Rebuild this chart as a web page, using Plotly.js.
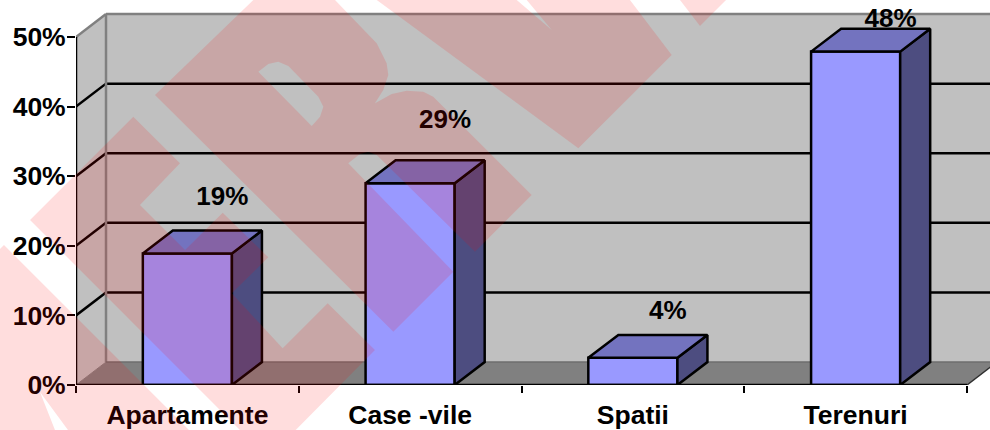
<!DOCTYPE html>
<html><head><meta charset="utf-8">
<script src="https://cdn.plot.ly/plotly-3.0.1.min.js"></script>
<style>html,body{margin:0;padding:0;background:#fff}#c{width:990px;height:430px}</style>
</head><body><div id="c"></div>
<script>
// ---- data ----
var categories = ['Apartamente', 'Case -vile', 'Spatii', 'Terenuri'];
var values = [18.9, 29.0, 3.9, 47.9];
var valueLabels = ['19%', '29%', '4%', '48%'];
var yTicks = [0, 10, 20, 30, 40, 50];
var yTickLabels = ['0%', '10%', '20%', '30%', '40%', '50%'];

// ---- 3D look ----
var depthX = 0.1347, depthY = 3.3, barWidth = 0.4;
var labelLift = [7.95, 8.9, 6.55, 4.5];
var labelShift = 0.157;
var xMax = categories.length, yMax = yTicks[yTicks.length - 1];

var centers = categories.map(function (_, i) { return i + 0.5; });

function poly(pts) {
  return 'M' + pts.map(function (p) { return p[0] + ',' + p[1]; }).join('L') + 'Z';
}
function seg(x0, y0, x1, y1, color, width) {
  return { type: 'line', layer: 'below', xref: 'x', yref: 'y', x0: x0, y0: y0, x1: x1, y1: y1,
           line: { color: color, width: width } };
}
function face(pts, fill) {
  return { type: 'path', layer: 'below', xref: 'x', yref: 'y', path: poly(pts), fillcolor: fill,
           line: { width: 0 } };
}

var shapes = [
  face([[0, 0], [depthX, depthY], [depthX, yMax + depthY], [0, yMax]], '#c0c0c0'),
  face([[depthX, depthY], [xMax + depthX, depthY], [xMax + depthX, yMax + depthY], [depthX, yMax + depthY]], '#c0c0c0'),
  face([[0, 0], [xMax, 0], [xMax + depthX, depthY], [depthX, depthY]], '#808080')
];
yTicks.slice(1, -1).forEach(function (t) {
  shapes.push(seg(0, t, depthX, t + depthY, '#000', 2.5));
  shapes.push(seg(depthX, t + depthY, xMax + depthX, t + depthY, '#000', 2.5));
});
shapes.push(seg(0, yMax, depthX, yMax + depthY, '#808080', 2.5));
shapes.push(seg(depthX, yMax + depthY, xMax + depthX, yMax + depthY, '#808080', 2.5));
shapes.push(seg(depthX, depthY, depthX, yMax + depthY, '#808080', 2.5));
shapes.push(seg(depthX, depthY, xMax + depthX, depthY, '#6e6e6e', 1.5));
shapes.push(seg(0, 0, depthX, depthY, '#808080', 1));
shapes.push(seg(xMax, 0, xMax + depthX, depthY, '#303030', 1.5));

// ---- watermark (translucent red letters over everything, in page pixels) ----
var wmPolys = [
  [[133.3,116.7],[180,163.3],[140,205],[185,250],[222.7,212.7],[268.3,257.3],[231.7,293.3],[282.7,348.3],[327.7,303.3],[375,350],[295.7,430],[240,430],[30,220]],
  [[0,249],[4,245],[189,430],[68,430],[40,392],[55,430],[0,430]],
  [[253.3,0],[155,95],[393.3,331.7],[453.3,271.7],[348.3,163.3],[360,154],[368.3,151.7],[376.7,155],[475,251.7],[531.7,195],[433.3,96.7],[423.3,91.7],[406.7,90.7],[391.7,94],[375,103.3],[383.3,90],[388.3,75],[386.7,63.3],[376.7,43.3],[335,0]],
  [[258.3,71.7],[268.3,64],[278.3,61.7],[288.3,66],[318.3,96.7],[323.3,106.7],[320,116.7],[311.7,126]],
  [[376.7,0],[578.3,148.3],[671.7,55],[630,0],[526.7,0],[551.7,30],[516.7,0]],
  [[680,0],[700,26],[726,0]]
];
var plotL = 76, plotW = 914, plotH = 385;
var wmPath = wmPolys.map(function (pg) {
  return poly(pg.map(function (p) { return [((p[0] - plotL) / plotW).toFixed(4), (1 - p[1] / plotH).toFixed(4)]; }));
}).join('');
shapes.push({ type: 'path', layer: 'above', xref: 'paper', yref: 'paper', path: wmPath,
              fillcolor: 'rgba(255,0,0,0.135)', line: { width: 0 } });

// ---- traces ----
var sideX = [], sideY = [], topX = [], topY = [];
values.forEach(function (v, i) {
  var l = centers[i] - barWidth / 2, r = centers[i] + barWidth / 2;
  sideX.push(r, r + depthX, r + depthX, r, r, null);
  sideY.push(0, depthY, v + depthY, v, 0, null);
  topX.push(l, r, r + depthX, l + depthX, l, null);
  topY.push(v, v, v + depthY, v + depthY, v, null);
});

var fontFamily = '"Liberation Sans", Arial, sans-serif';

var traces = [
  { type: 'bar', x: centers, y: values, width: barWidth, cliponaxis: false,
    marker: { color: '#9999ff', line: { color: '#000', width: 2.5 } }, hoverinfo: 'skip' },
  { type: 'scatter', mode: 'lines', x: sideX, y: sideY, fill: 'toself', fillcolor: '#4d4d80',
    line: { color: '#000', width: 2.5 }, cliponaxis: false, hoverinfo: 'skip' },
  { type: 'scatter', mode: 'lines', x: topX, y: topY, fill: 'toself', fillcolor: '#7373bf',
    line: { color: '#000', width: 2.5 }, cliponaxis: false, hoverinfo: 'skip' },
  { type: 'scatter', mode: 'lines', x: [0, 0, xMax], y: [yMax, 0, 0],
    line: { color: '#000', width: 2.5 }, cliponaxis: false, hoverinfo: 'skip' },
  { type: 'scatter', mode: 'text',
    x: centers.map(function (c) { return c + labelShift; }),
    y: values.map(function (v, i) { return v + labelLift[i]; }),
    text: valueLabels, textposition: 'middle center', cliponaxis: false,
    textfont: { family: fontFamily, size: 26, color: '#000', weight: 700 }, hoverinfo: 'skip' }
];

var layout = {
  width: 990, height: 430, showlegend: false, dragmode: false,
  paper_bgcolor: '#fff', plot_bgcolor: '#fff',
  margin: { l: plotL, r: 0, t: 0, b: 45, pad: 0 },
  bargap: 0,
  shapes: shapes,
  xaxis: {
    range: [0, plotW / 222.75], fixedrange: true, showgrid: false, zeroline: false, showline: false,
    tickmode: 'array', tickvals: centers, ticktext: categories, ticks: '', ticklen: 0,
    ticklabelstandoff: 11,
    tickfont: { family: fontFamily, size: 26.5, color: '#000', weight: 700 },
    minor: { tickmode: 'array', tickvals: [0, 1, 2, 3, 4], ticks: 'outside', ticklen: 7, tickwidth: 2, tickcolor: '#000', showgrid: false }
  },
  yaxis: {
    range: [0, plotH / 6.96], fixedrange: true, showgrid: false, zeroline: false, showline: false,
    tickmode: 'array', tickvals: yTicks, ticktext: yTickLabels,
    ticks: 'outside', ticklen: 8, tickwidth: 2, tickcolor: '#000', ticklabelstandoff: -4,
    tickfont: { family: fontFamily, size: 26.5, color: '#000', weight: 700 }
  }
};
Plotly.newPlot('c', traces, layout, { displayModeBar: false, staticPlot: true });
</script></body></html>
